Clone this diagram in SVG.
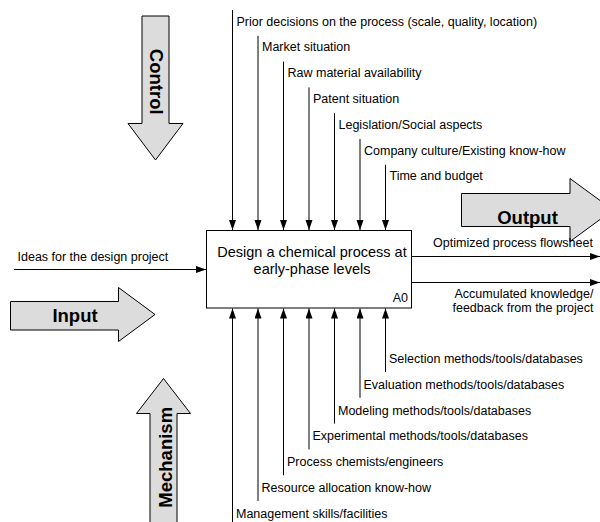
<svg xmlns="http://www.w3.org/2000/svg" width="600" height="522" viewBox="0 0 600 522">
<style>
.lbl{font-family:"Liberation Sans",Arial,sans-serif;font-size:12.5px;fill:#000}
.box{font-family:"Liberation Sans",Arial,sans-serif;font-size:14.5px;fill:#000}
.big{font-family:"Liberation Sans",Arial,sans-serif;font-size:18.5px;font-weight:bold;fill:#000}
.blk{fill:#dcdcdc;stroke:#000;stroke-width:1}
.ln{stroke:#000;stroke-width:1;fill:none}
</style>
<defs>
<marker id="ah" markerUnits="userSpaceOnUse" markerWidth="11" markerHeight="8" refX="10" refY="3.5" orient="auto">
<path d="M0,0 L10,3.5 L0,7 z" fill="#000"/>
</marker>
</defs>
<rect width="600" height="522" fill="#fff"/>

<g id="control-arrow">
<polygon class="blk" points="142,16 169,16 169,123.5 183,123.5 155.5,160 128,123.5 142,123.5"/>
<text class="big" transform="translate(149.5,81.7) rotate(90)" text-anchor="middle">Control</text>
</g>
<g id="input-arrow">
<polygon class="blk" points="10.5,301.5 118.5,301.5 118.5,287.5 155,314.5 118.5,341.5 118.5,330 10.5,330"/>
<text class="big" x="75" y="321.5" text-anchor="middle">Input</text>
</g>
<g id="output-arrow">
<polygon class="blk" points="461.5,193.5 570,193.5 570,178.5 613,210 570,241.5 570,226.5 461.5,226.5"/>
<text class="big" x="527.5" y="223.5" text-anchor="middle">Output</text>
</g>
<g id="mechanism-arrow">
<polygon class="blk" points="163.5,378.5 190.5,413.5 177,413.5 177,526 150,526 150,413.5 136.5,413.5"/>
<text class="big" transform="translate(171.5,457.3) rotate(-90)" text-anchor="middle">Mechanism</text>
</g>

<g id="A0">
<rect x="206.5" y="230.5" width="205" height="77.5" fill="#fff" stroke="#000" stroke-width="1"/>
<text class="box" x="312" y="256.5" text-anchor="middle">Design a chemical process at</text>
<text class="box" x="312" y="274" text-anchor="middle">early-phase levels</text>
<text class="lbl" x="408" y="302" text-anchor="end">A0</text>
</g>

<g id="connectors">
<line class="ln" x1="232.5" y1="10" x2="232.5" y2="230" marker-end="url(#ah)"/>
<line class="ln" x1="258" y1="35.8" x2="258" y2="230" marker-end="url(#ah)"/>
<line class="ln" x1="283.5" y1="61.6" x2="283.5" y2="230" marker-end="url(#ah)"/>
<line class="ln" x1="309" y1="87.4" x2="309" y2="230" marker-end="url(#ah)"/>
<line class="ln" x1="334.5" y1="113.2" x2="334.5" y2="230" marker-end="url(#ah)"/>
<line class="ln" x1="360" y1="139" x2="360" y2="230" marker-end="url(#ah)"/>
<line class="ln" x1="385.5" y1="164.8" x2="385.5" y2="230" marker-end="url(#ah)"/>

<line class="ln" x1="232.5" y1="527" x2="232.5" y2="308.5" marker-end="url(#ah)"/>
<line class="ln" x1="258" y1="501" x2="258" y2="308.5" marker-end="url(#ah)"/>
<line class="ln" x1="283.5" y1="475.2" x2="283.5" y2="308.5" marker-end="url(#ah)"/>
<line class="ln" x1="309" y1="449.4" x2="309" y2="308.5" marker-end="url(#ah)"/>
<line class="ln" x1="334.5" y1="423.6" x2="334.5" y2="308.5" marker-end="url(#ah)"/>
<line class="ln" x1="360" y1="397.8" x2="360" y2="308.5" marker-end="url(#ah)"/>
<line class="ln" x1="385.5" y1="372" x2="385.5" y2="308.5" marker-end="url(#ah)"/>

<line class="ln" x1="14" y1="269.5" x2="206" y2="269.5" marker-end="url(#ah)"/>
<line class="ln" x1="411.5" y1="256.5" x2="600" y2="256.5" marker-end="url(#ah)"/>
<line class="ln" x1="411.5" y1="282.5" x2="600" y2="282.5" marker-end="url(#ah)"/>
</g>

<g id="labels">
<text class="lbl" x="236.5" y="25.5">Prior decisions on the process (scale, quality, location)</text>
<text class="lbl" x="262" y="51.3">Market situation</text>
<text class="lbl" x="287.5" y="77.1">Raw material availability</text>
<text class="lbl" x="313" y="102.9">Patent situation</text>
<text class="lbl" x="338.5" y="128.7">Legislation/Social aspects</text>
<text class="lbl" x="364" y="154.5">Company culture/Existing know-how</text>
<text class="lbl" x="389.5" y="180.3">Time and budget</text>

<text class="lbl" x="389" y="363">Selection methods/tools/databases</text>
<text class="lbl" x="363.5" y="389">Evaluation methods/tools/databases</text>
<text class="lbl" x="338" y="414.6">Modeling methods/tools/databases</text>
<text class="lbl" x="312.5" y="440.4">Experimental methods/tools/databases</text>
<text class="lbl" x="287" y="466.2">Process chemists/engineers</text>
<text class="lbl" x="261.5" y="492">Resource allocation know-how</text>
<text class="lbl" x="236" y="517.8">Management skills/facilities</text>

<text class="lbl" x="17.5" y="261">Ideas for the design project</text>
<text class="lbl" x="513" y="247" text-anchor="middle">Optimized process flowsheet</text>
<text class="lbl" x="524" y="298" text-anchor="middle">Accumulated knowledge/</text>
<text class="lbl" x="523" y="311.5" text-anchor="middle">feedback from the project</text>
</g>
</svg>
